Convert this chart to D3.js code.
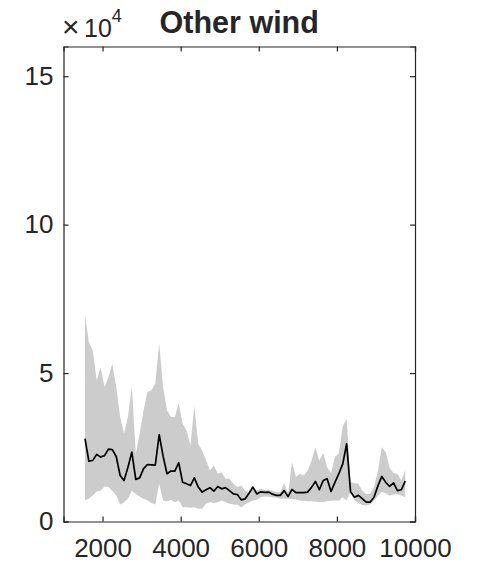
<!DOCTYPE html>
<html>
<head>
<meta charset="utf-8">
<title>Other wind</title>
<style>
  body {margin: 0; background: white;}
  text {font-family: "Liberation Sans", Arial, sans-serif; fill: #262626;}
</style>
</head>
<body>
<svg id="svg" width="485" height="567"></svg>
<script src="https://d3js.org/d3.v7.min.js"></script>
<script>
// x positions of the samples
var xs = [1550,1650,1750,1850,1950,2050,2150,2250,2350,2450,2550,2650,2750,2850,2950,3050,3150,3250,3350,3450,
          3550,3650,3750,3850,3950,4050,4150,4250,4350,4450,4550,4650,4750,4850,4950,5050,5150,5250,5350,5450,
          5550,5650,5750,5850,5950,6050,6150,6250,6350,6450,6550,6650,6750,6850,6950,7050,7150,7250,7350,7450,
          7550,7650,7750,7850,7950,8050,8150,8250,8350,8450,8550,8650,8750,8850,8950,9050,9150,9250,9350,9450,
          9550,9650,9750];
// values in units of 10^4
var mid = [2.79,2.03,2.06,2.26,2.17,2.22,2.44,2.42,2.19,1.55,1.38,1.83,2.34,1.42,1.47,1.78,1.92,1.91,1.90,2.93,
           2.20,1.61,1.70,1.70,1.98,1.32,1.27,1.21,1.47,1.16,0.99,1.07,1.14,1.02,1.18,1.10,1.14,1.04,0.93,0.91,
           0.73,0.76,0.95,1.16,0.93,1.00,0.98,0.99,0.92,0.88,0.88,1.04,0.84,1.08,0.97,0.97,0.97,0.99,1.15,1.35,
           1.07,1.38,1.44,1.01,1.32,1.61,1.94,2.62,1.00,0.82,0.88,0.77,0.65,0.65,0.82,1.20,1.52,1.32,1.18,1.30,
           1.04,1.07,1.36];
var upper = [6.94,6.04,5.76,4.75,5.20,4.53,4.86,5.31,4.53,3.52,2.96,3.52,4.55,2.28,2.96,3.74,4.36,4.42,4.64,6.01,
             4.53,3.74,3.52,3.52,3.99,3.29,3.07,2.56,3.88,2.62,2.39,2.06,1.72,1.89,1.61,1.66,1.44,1.44,1.27,1.16,
             1.21,1.04,0.99,1.10,1.05,1.10,1.07,1.07,1.03,0.99,0.99,1.29,0.93,2.00,1.50,1.60,1.55,1.70,2.05,2.50,
             2.05,2.32,1.83,1.63,2.17,2.30,3.20,3.46,1.32,1.29,1.27,1.04,0.93,0.93,1.16,1.70,2.50,2.34,1.80,1.63,
             1.61,1.38,1.72];
var lower = [0.71,0.77,0.88,1.01,1.04,1.18,1.16,1.04,0.88,0.57,0.65,0.77,1.04,0.93,0.84,0.77,0.71,0.62,0.57,1.27,
             0.71,0.67,0.73,0.65,0.71,0.48,0.48,0.46,0.48,0.43,0.43,0.60,0.65,0.62,0.65,0.71,0.65,0.60,0.57,0.57,
             0.48,0.57,0.65,0.71,0.73,0.82,0.84,0.83,0.82,0.80,0.77,0.77,0.77,0.76,0.74,0.71,0.70,0.68,0.68,0.67,
             0.65,0.66,0.68,0.70,0.71,0.71,0.82,0.71,1.00,0.71,0.62,0.56,0.54,0.57,0.71,0.86,1.00,0.95,0.88,0.91,
             0.92,0.88,0.82];
var xTicks = [2000,4000,6000,8000,10000];
var yTicks = [0,5,10,15];

var margin = {top: 46.5, left: 63.5, right: 70, bottom: 45.5};
var width = 485, height = 567;
var innerW = width - margin.left - margin.right;
var innerH = height - margin.top - margin.bottom;

var svg = d3.select("#svg");
var g = svg.append("g").attr("transform", "translate(" + margin.left + "," + margin.top + ")");

var x = d3.scaleLinear().domain([1000, 10000]).range([0, innerW]);
var y = d3.scaleLinear().domain([0, 16]).range([innerH, 0]);

var data = xs.map(function(d, i){ return {x: d, m: mid[i], lo: lower[i], hi: upper[i]}; });

// band
g.append("path")
  .datum(data)
  .attr("fill", "#cccccc")
  .attr("stroke", "none")
  .attr("d", d3.area()
    .x(function(d){ return x(d.x); })
    .y0(function(d){ return y(d.lo); })
    .y1(function(d){ return y(d.hi); }));

// mean line
g.append("path")
  .datum(data)
  .attr("fill", "none")
  .attr("stroke", "#000")
  .attr("stroke-width", 1.7)
  .attr("stroke-linejoin", "round")
  .attr("d", d3.line()
    .x(function(d){ return x(d.x); })
    .y(function(d){ return y(d.m); }));

// axes, ticks inward like matlab
var tl = 5;
var xb = g.append("g").attr("transform", "translate(0," + innerH + ")")
  .call(d3.axisBottom(x).tickValues(xTicks).tickSize(-tl).tickPadding(17).tickFormat(d3.format("d")));
var xt = g.append("g")
  .call(d3.axisTop(x).tickValues(xTicks).tickSize(-tl).tickFormat(""));
var yl = g.append("g")
  .call(d3.axisLeft(y).tickValues(yTicks).tickSize(-tl).tickPadding(10).tickFormat(d3.format("d")));
var yr = g.append("g").attr("transform", "translate(" + innerW + ",0)")
  .call(d3.axisRight(y).tickValues(yTicks).tickSize(-tl).tickFormat(""));

[xb, xt, yl, yr].forEach(function(a){
  a.select(".domain").attr("stroke", "#262626").attr("stroke-width", 1.2);
  a.selectAll(".tick line").attr("stroke", "#262626").attr("stroke-width", 1.2);
  a.selectAll(".tick text").attr("fill", "#262626")
    .style("font-family", "'Liberation Sans', Arial, sans-serif")
    .style("font-size", "26px");
});
xb.selectAll(".tick text").attr("dy", "0.71em");

// exponent label
svg.append("text").attr("x", 62).attr("y", 37).style("font-size", "30px").text("\u00d7");
var ex = svg.append("text").attr("x", 84).attr("y", 37).style("font-size", "25px");
ex.append("tspan").text("10");
ex.append("tspan").attr("dy", -15).style("font-size", "18px").text("4");

// title
svg.append("text")
  .attr("x", margin.left + innerW / 2)
  .attr("y", 33)
  .attr("text-anchor", "middle")
  .style("font-size", "30.5px")
  .style("font-weight", "bold")
  .text("Other wind");
</script>
</body>
</html>
